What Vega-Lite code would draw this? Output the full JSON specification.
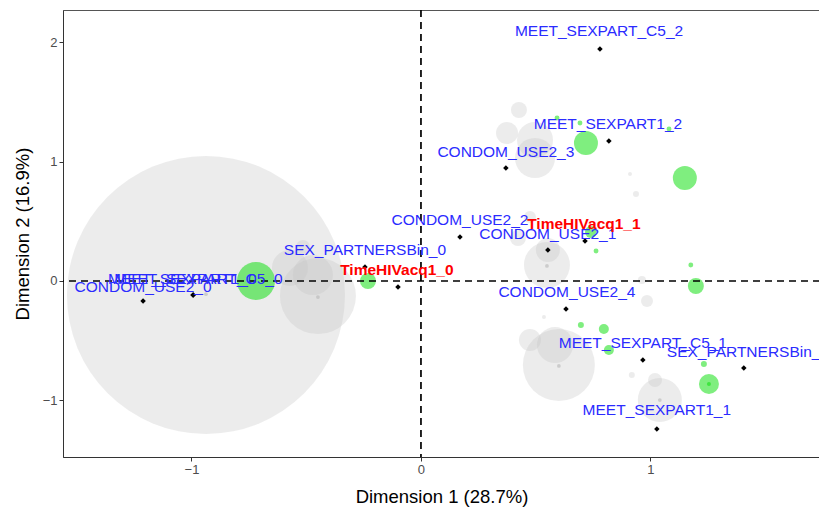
{
  "$schema": "https://vega.github.io/schema/vega-lite/v6.json",
  "autosize": {"type": "none"},
  "padding": {"left": 63, "top": 10, "right": 0, "bottom": 50},
  "width": 757,
  "height": 447,
  "background": "white",
  "datasets": {
    "grey": [
      {"x": -0.937, "y": -0.117, "w": 19321},
      {"x": -0.571, "y": 0.109, "w": 324},
      {"x": -0.471, "y": 0.05, "w": 400},
      {"x": -0.449, "y": -0.126, "w": 1444},
      {"x": -0.514, "y": 0.285, "w": 49},
      {"x": 0.427, "y": 1.431, "w": 64},
      {"x": 0.375, "y": 1.238, "w": 121},
      {"x": 0.497, "y": 1.18, "w": 324},
      {"x": 0.497, "y": 1.029, "w": 400},
      {"x": 0.911, "y": 0.895, "w": 4},
      {"x": 0.937, "y": 0.728, "w": 9},
      {"x": 0.423, "y": 0.36, "w": 64},
      {"x": 0.475, "y": 0.536, "w": 36},
      {"x": 0.549, "y": 0.134, "w": 529},
      {"x": 0.553, "y": 0.259, "w": 144},
      {"x": 0.963, "y": 0.008, "w": 16},
      {"x": 0.985, "y": -0.167, "w": 36},
      {"x": 0.536, "y": -0.301, "w": 4},
      {"x": 0.475, "y": -0.494, "w": 121},
      {"x": 0.584, "y": -0.536, "w": 324},
      {"x": 0.601, "y": -0.703, "w": 1296},
      {"x": 0.919, "y": -0.787, "w": 9},
      {"x": 1.02, "y": -0.828, "w": 49},
      {"x": 1.041, "y": -0.996, "w": 484}
    ],
    "greydots": [
      {"x": -0.937, "y": -0.11},
      {"x": -0.449, "y": -0.134},
      {"x": 0.549, "y": 0.126},
      {"x": 0.601, "y": -0.711},
      {"x": 1.041, "y": -0.996}
    ],
    "green": [
      {"x": -0.719, "y": 0.0, "w": 361},
      {"x": -0.231, "y": 0.0, "w": 64},
      {"x": 0.719, "y": 1.155, "w": 144},
      {"x": 1.15, "y": 0.862, "w": 144},
      {"x": 0.593, "y": 1.364, "w": 6},
      {"x": 0.693, "y": 1.322, "w": 6},
      {"x": 1.081, "y": 1.272, "w": 6},
      {"x": 0.741, "y": 0.411, "w": 36},
      {"x": 0.763, "y": 0.251, "w": 6},
      {"x": 1.176, "y": 0.134, "w": 6},
      {"x": 1.198, "y": -0.042, "w": 64},
      {"x": 0.697, "y": -0.368, "w": 9},
      {"x": 0.797, "y": -0.402, "w": 25},
      {"x": 0.819, "y": -0.577, "w": 25},
      {"x": 1.233, "y": -0.695, "w": 9},
      {"x": 1.255, "y": -0.862, "w": 100},
      {"x": 1.255, "y": -0.862, "w": 4}
    ],
    "cats": [
      {"name": "MEET_SEXPART_C5_2", "x": 0.78, "y": 1.941, "lx": 0.776, "ly": 2.092, "kind": "active"},
      {"name": "MEET_SEXPART1_2", "x": 0.819, "y": 1.172, "lx": 0.815, "ly": 1.314, "kind": "active"},
      {"name": "CONDOM_USE2_3", "x": 0.37, "y": 0.946, "lx": 0.37, "ly": 1.079, "kind": "active"},
      {"name": "CONDOM_USE2_2", "x": 0.17, "y": 0.368, "lx": 0.17, "ly": 0.51, "kind": "active"},
      {"name": "CONDOM_USE2_1", "x": 0.715, "y": 0.335, "lx": 0.553, "ly": 0.393, "kind": "active"},
      {"name": "TimeHIVacq1_1", "x": 0.553, "y": 0.259, "lx": 0.71, "ly": 0.477, "kind": "supp"},
      {"name": "SEX_PARTNERSBin_0", "x": -0.1, "y": -0.05, "lx": -0.244, "ly": 0.259, "kind": "active"},
      {"name": "TimeHIVacq1_0", "x": -0.244, "y": 0.117, "lx": -0.105, "ly": 0.092, "kind": "supp"},
      {"name": "CONDOM_USE2_0", "x": -1.211, "y": -0.167, "lx": -1.211, "ly": -0.05, "kind": "active"},
      {"name": "MEET_SEXPART1_0", "x": -0.993, "y": -0.117, "lx": -1.04, "ly": 0.017, "kind": "active"},
      {"name": "MEET_SEXPART_C5_0", "x": -0.993, "y": -0.117, "lx": -0.97, "ly": 0.017, "kind": "active"},
      {"name": "CONDOM_USE2_4", "x": 0.632, "y": -0.234, "lx": 0.636, "ly": -0.092, "kind": "active"},
      {"name": "MEET_SEXPART_C5_1", "x": 0.967, "y": -0.661, "lx": 0.967, "ly": -0.519, "kind": "active"},
      {"name": "SEX_PARTNERSBin_1", "x": 1.407, "y": -0.728, "lx": 1.425, "ly": -0.594, "kind": "active"},
      {"name": "MEET_SEXPART1_1", "x": 1.028, "y": -1.238, "lx": 1.028, "ly": -1.079, "kind": "active"}
    ]
  },
  "encoding": {
    "x": {"type": "quantitative", "scale": {"domain": [-1.56, 1.739], "nice": false, "zero": false},
      "axis": {"title": "Dimension 1 (28.7%)", "values": [-1, 0, 1], "titleBaseline": "alphabetic", "titleY": 45}},
    "y": {"type": "quantitative", "scale": {"domain": [-1.473, 2.268], "nice": false, "zero": false},
      "axis": {"title": "Dimension 2 (16.9%)", "values": [-1, 0, 1, 2], "titleBaseline": "alphabetic", "titleX": -35}}
  },
  "layer": [
    {
      "data": {"name": "grey"},
      "mark": {"type": "point", "filled": true, "shape": "circle", "color": "#c4c4c4", "opacity": 0.32, "clip": true},
      "encoding": {
        "x": {"field": "x", "type": "quantitative"},
        "y": {"field": "y", "type": "quantitative"},
        "size": {"field": "w", "type": "quantitative", "scale": {"type": "linear", "domain": [0, 20000], "range": [0, 80000]}, "legend": null}
      }
    },
    {
      "data": {"name": "greydots"},
      "mark": {"type": "point", "filled": true, "shape": "circle", "color": "#b8b8b8", "opacity": 0.6, "size": 14},
      "encoding": {
        "x": {"field": "x", "type": "quantitative"},
        "y": {"field": "y", "type": "quantitative"}
      }
    },
    {
      "data": {"name": "green"},
      "mark": {"type": "point", "filled": true, "shape": "circle", "color": "#00dd00", "opacity": 0.5, "clip": true},
      "encoding": {
        "x": {"field": "x", "type": "quantitative"},
        "y": {"field": "y", "type": "quantitative"},
        "size": {"field": "w", "type": "quantitative", "scale": {"type": "linear", "domain": [0, 20000], "range": [0, 80000]}, "legend": null}
      }
    },
    {
      "data": {"values": [{"v": 0}]},
      "mark": {"type": "rule", "color": "black", "strokeDash": [7, 5], "strokeWidth": 1.7},
      "encoding": {"x": {"field": "v", "type": "quantitative"}}
    },
    {
      "data": {"values": [{"v": 0}]},
      "mark": {"type": "rule", "color": "black", "strokeDash": [7, 5], "strokeWidth": 1.7},
      "encoding": {"y": {"field": "v", "type": "quantitative"}}
    },
    {
      "data": {"name": "cats"},
      "mark": {"type": "point", "filled": true, "shape": "diamond", "color": "black", "opacity": 1, "size": 30},
      "encoding": {
        "x": {"field": "x", "type": "quantitative"},
        "y": {"field": "y", "type": "quantitative"}
      }
    },
    {
      "data": {"name": "cats"},
      "transform": [{"filter": "datum.kind == 'active'"}],
      "mark": {"type": "text", "color": "#2b2bff", "font": "Liberation Sans", "fontSize": 15.5, "align": "center", "baseline": "middle"},
      "encoding": {
        "x": {"field": "lx", "type": "quantitative"},
        "y": {"field": "ly", "type": "quantitative"},
        "text": {"field": "name", "type": "nominal"}
      }
    },
    {
      "data": {"name": "cats"},
      "transform": [{"filter": "datum.kind == 'supp'"}],
      "mark": {"type": "text", "color": "#ff0000", "font": "Liberation Sans", "fontSize": 15.5, "fontWeight": "bold", "align": "center", "baseline": "middle"},
      "encoding": {
        "x": {"field": "lx", "type": "quantitative"},
        "y": {"field": "ly", "type": "quantitative"},
        "text": {"field": "name", "type": "nominal"}
      }
    }
  ],
  "config": {
    "view": {"stroke": "#555555", "strokeWidth": 1},
    "axis": {
      "grid": false,
      "domainColor": "#333333",
      "tickColor": "#333333",
      "tickSize": 4,
      "labelColor": "#4d4d4d",
      "labelFontSize": 13,
      "labelFont": "Liberation Sans",
      "titleFont": "Liberation Sans",
      "titleFontSize": 18.5,
      "titleFontWeight": "normal",
      "titleColor": "#000000"
    }
  }
}
